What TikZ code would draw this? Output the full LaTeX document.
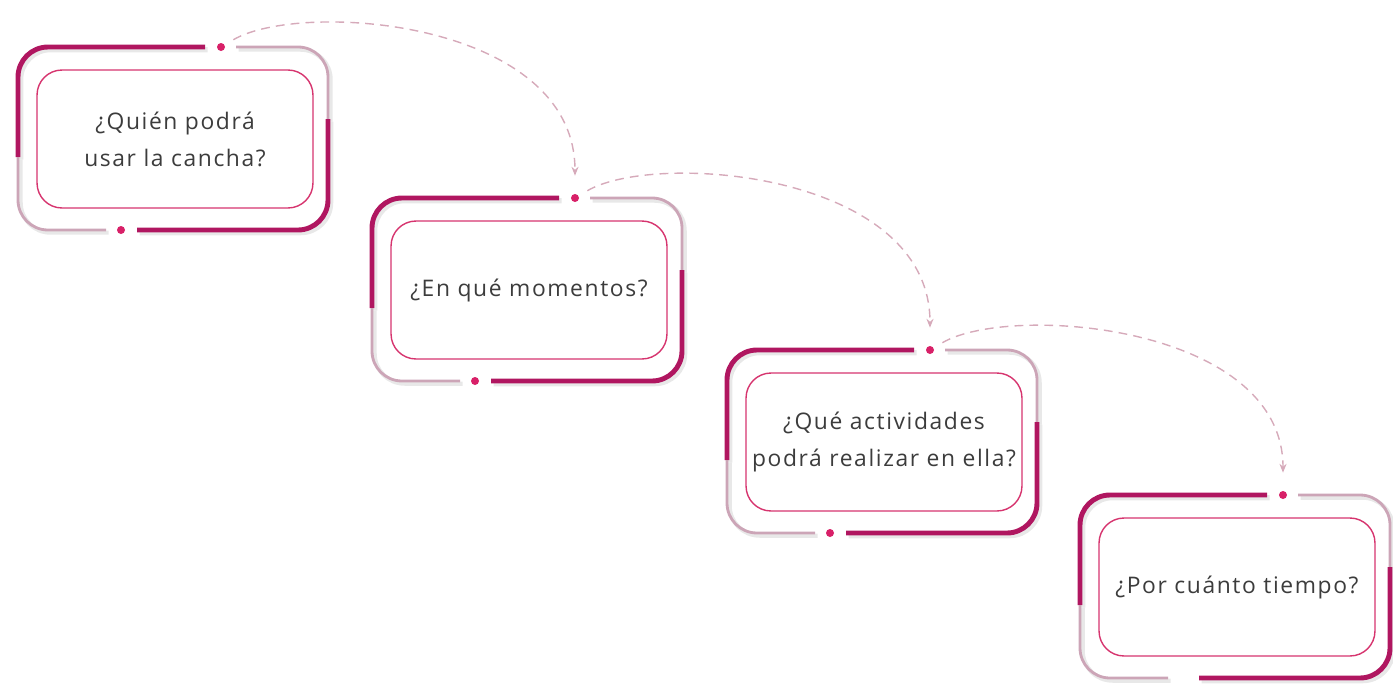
\documentclass[tikz,border=0pt]{standalone}
\usepackage{fontspec}
\setmainfont{Open Sans}[LetterSpace=7]
\usetikzlibrary{arrows.meta}
\definecolor{FrameDark}{RGB}{176,22,96}
\definecolor{FrameLight}{RGB}{204,165,183}
\definecolor{BoxLine}{RGB}{214,52,110}
\definecolor{DotPink}{RGB}{216,32,104}
\definecolor{LinkPink}{RGB}{214,170,186}
\definecolor{TextGray}{RGB}{60,60,60}

\begin{document}
\begin{tikzpicture}[
    x=0.02cm,
    y=-0.02cm,
    font=\fontsize{13}{21}\selectfont,
    qbox/.style={
        draw=BoxLine,
        line width=0.8pt,
        rounded corners=0.5cm,
        minimum width=5.52cm,
        minimum height=2.76cm,
        align=center,
        text=TextGray
    },
    darkpart/.style={
        draw=FrameDark,
        line width=2.8pt,
        rounded corners=0.6cm,
        preaction={draw=gray!35, line width=3pt, opacity=0.5,
            transform canvas={shift={(1.5pt,-1.5pt)}}}
    },
    lightpart/.style={
        draw=FrameLight,
        line width=1.6pt,
        rounded corners=0.6cm,
        preaction={draw=gray!35, line width=2.4pt, opacity=0.5,
            transform canvas={shift={(1.5pt,-1.5pt)}}}
    },
    dot/.style={
        circle,
        inner sep=0pt,
        minimum size=0.16cm
    },
    link/.style={
        draw=LinkPink,
        line width=0.8pt,
        dash pattern=on 5pt off 3.5pt,
        shorten <=0.2cm,
        shorten >=0.36cm,
        -{Stealth[length=5pt,width=4pt]}
    }
]

\useasboundingbox (0,0) rectangle (1393,683);

\foreach \L/\T/\n/\bd/\txt in {
    18/47/q1/DotPink/{¿Quién podrá\\usar la cancha?},
    372/198/q2/DotPink/{¿En qué momentos?},
    727/350/q3/DotPink/{¿Qué actividades\\podrá realizar en ella?},
    1080/495/q4/none/{¿Por cuánto tiempo?}} {
  \begin{scope}[shift={(\L,\T)}]
    \draw[darkpart] (0,110) -- (0,0) -- (187,0);
    \draw[lightpart] (218,0) -- (310,0) -- (310,72);
    \draw[darkpart] (310,72) -- (310,183) -- (119,183);
    \draw[lightpart] (88,183) -- (0,183) -- (0,110);
    \node[dot, fill=DotPink] (\n top) at (203,0) {};
    \node[dot, fill=\bd] (\n bot) at (103,183) {};
    \node[qbox] (\n) at (157,92) {\txt};
  \end{scope}
}

\draw[link] (q1top) .. controls +(80,-47) and +(0,-178) .. (q2top);
\draw[link] (q2top) .. controls +(80,-47) and +(0,-178) .. (q3top);
\draw[link] (q3top) .. controls +(80,-47) and +(0,-170) .. (q4top);

\end{tikzpicture}
\end{document}
